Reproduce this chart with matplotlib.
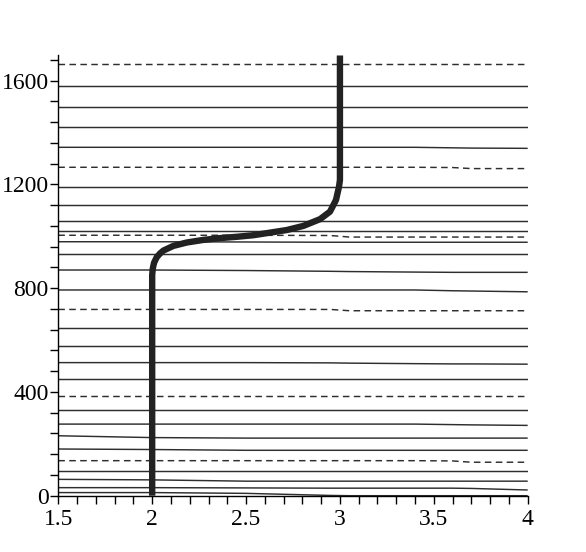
import matplotlib
matplotlib.use("Agg")
import matplotlib.pyplot as plt
import numpy as np

# ---- data ----
# thick transition curve (x, y)
curve_y = [0, 850, 875, 898, 919, 934, 945, 963, 976, 986, 993, 998, 1004, 1014,
           1024, 1040, 1066, 1095, 1140, 1191, 1217, 1697]
curve_x = [2.0, 2.0, 2.003, 2.01, 2.024, 2.042, 2.06, 2.113, 2.184, 2.272, 2.361,
           2.45, 2.538, 2.627, 2.716, 2.805, 2.894, 2.947, 2.979, 2.995, 3.0, 3.0]

# thin horizontal level lines: y values sampled at these x positions
level_x = [1.5, 2.0, 2.5, 2.95, 3.05, 3.4, 3.6, 3.7, 4.0]

solid_levels = [
    [1579] * 9,
    [1500] * 9,
    [1420] * 9,
    [1343, 1343, 1343, 1343, 1343, 1343, 1341, 1340, 1339],
    [1189] * 9,
    [1119] * 9,
    [1059] * 9,
    [1022] * 9,
    [979, 979, 978, 977, 977, 977, 977, 977, 977],
    [932] * 9,
    [870, 870, 868, 865, 864, 862, 861, 861, 861],
    [793, 793, 793, 793, 793, 793, 790, 789, 786],
    [645] * 9,
    [577] * 9,
    [513, 513, 513, 512, 511, 509, 508, 508, 507],
    [449] * 9,
    [330] * 9,
    [276, 276, 276, 276, 276, 276, 274, 273, 271],
    [231, 224, 222, 222, 222, 222, 222, 222, 222],
    [180, 178, 175, 175, 175, 175, 175, 175, 175],
    [94] * 9,
    [63, 61, 56, 56, 56, 56, 56, 56, 56],
    [31, 31, 30, 29, 29, 29, 29, 28, 22],
    [12, 12, 9, 1, 0, 0, 0, 0, 0],
]

dashed_levels = [
    [1663] * 9,
    [1266, 1266, 1266, 1266, 1266, 1266, 1265, 1261, 1261],
    [1004, 1004, 1004, 1003, 997, 997, 997, 997, 997],
    [718, 718, 718, 718, 713, 713, 713, 713, 713],
    [385] * 9,
    [135, 135, 135, 135, 135, 135, 134, 129, 129],
]

xticks = [1.5, 2, 2.5, 3, 3.5, 4]
xticklabels = ["1.5", "2", "2.5", "3", "3.5", "4"]
yticks = [0, 400, 800, 1200, 1600]
yticklabels = ["0", "400", "800", "1200", "1600"]

# ---- figure ----
plt.rcParams["font.family"] = ["Liberation Serif", "DejaVu Serif"]
fig = plt.figure(figsize=(5.86, 5.52), dpi=100)
ax = fig.add_axes([0.0995, 0.102, 0.801, 0.7975])

for ys in solid_levels:
    ax.plot(level_x, ys, color="#2e2e2e", lw=1.05, solid_capstyle="butt", zorder=2)
for ys in dashed_levels:
    ax.plot(level_x, ys, color="#2e2e2e", lw=1.05, dashes=(4.5, 3.0), zorder=2)

ax.plot(curve_x, curve_y, color="#222222", lw=4.6, solid_capstyle="butt",
        solid_joinstyle="round", zorder=3)

ax.set_xlim(1.5, 4.0)
ax.set_ylim(0, 1697)

for s in ["top", "right"]:
    ax.spines[s].set_visible(False)
for s in ["left", "bottom"]:
    ax.spines[s].set_linewidth(1.0)
    ax.spines[s].set_color("black")

ax.set_xticks(xticks)
ax.set_xticklabels(xticklabels)
ax.set_yticks(yticks)
ax.set_yticklabels(yticklabels)
ax.set_xticks(np.arange(1.5, 4.01, 0.1), minor=True)
ax.set_yticks(np.arange(0, 1697, 80), minor=True)

ax.tick_params(which="both", direction="out", length=5.5, width=1.0, color="black")
ax.tick_params(axis="both", which="major", labelsize=17, pad=1.5)
ax.tick_params(axis="x", which="major", pad=4)

fig.savefig("out.png", dpi=100)
